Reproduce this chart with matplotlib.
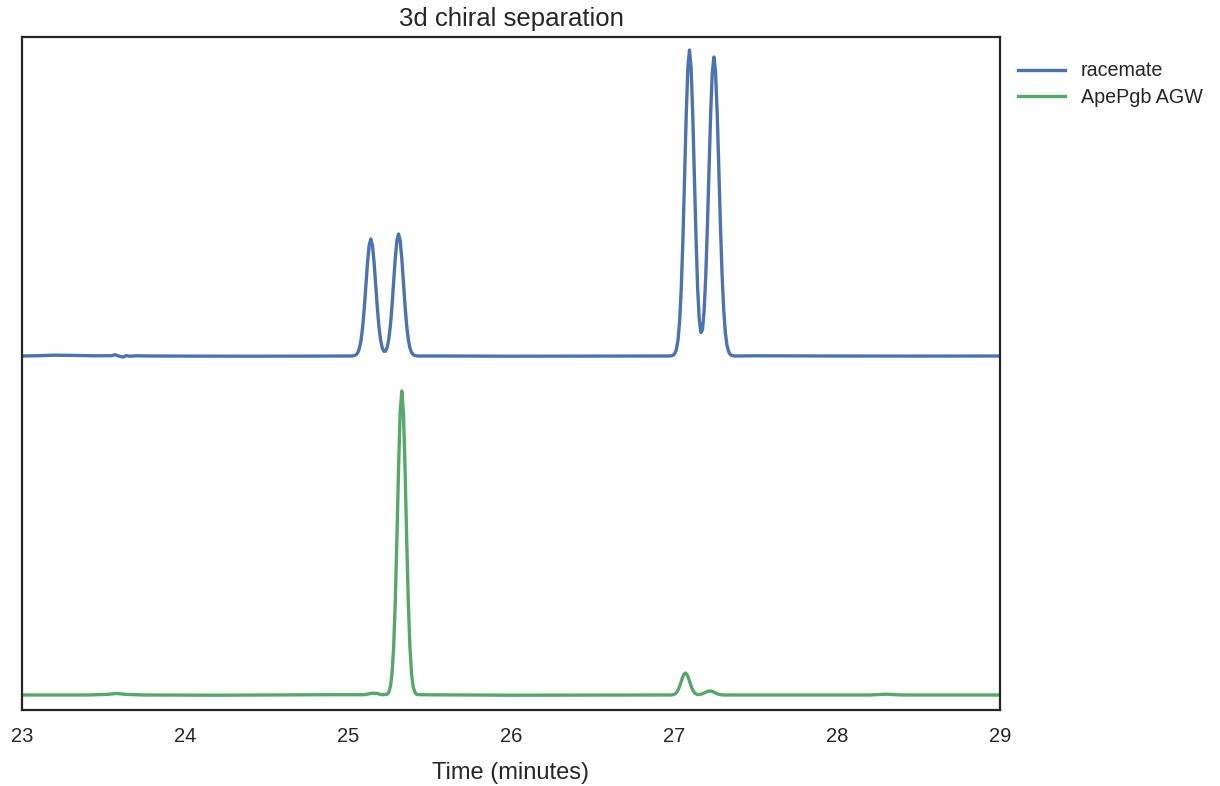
import matplotlib
matplotlib.use("Agg")
import matplotlib.pyplot as plt

# ---------------- data ----------------
title = "3d chiral separation"
xlabel = "Time (minutes)"
labels = ["racemate", "ApePgb AGW"]
xticks = [23, 24, 25, 26, 27, 28, 29]

racemate_t = [
    23.00, 23.10, 23.20, 23.30, 23.45, 23.55, 23.57, 23.60, 23.62, 23.64,
    23.66, 23.70, 23.80, 24.00, 24.40, 24.80, 25.00, 25.02,
    25.03, 25.04, 25.05, 25.06, 25.07, 25.08, 25.09, 25.10, 25.11, 25.12,
    25.13, 25.14, 25.15, 25.16, 25.17, 25.18, 25.19, 25.20, 25.21, 25.22,
    25.23, 25.24, 25.25, 25.26, 25.27, 25.28, 25.29, 25.30, 25.31, 25.32,
    25.33, 25.34, 25.35, 25.36, 25.37, 25.38, 25.39, 25.40, 25.41, 25.42,
    25.43, 25.60, 26.00, 26.50, 26.90, 26.965,
    26.975, 26.985, 26.995, 27.005, 27.015, 27.025, 27.035, 27.045, 27.055,
    27.065, 27.075, 27.085, 27.095, 27.105, 27.115, 27.125, 27.135, 27.145,
    27.155, 27.165, 27.175, 27.185, 27.195, 27.205, 27.215, 27.225, 27.235,
    27.245, 27.255, 27.265, 27.275, 27.285, 27.295, 27.305, 27.315, 27.325,
    27.335, 27.345, 27.355, 27.365, 27.375, 27.50, 28.00, 28.50, 29.00,
]
racemate_y = [
    0.0, 0.3, 0.8, 0.6, 0.2, 0.3, 1.3, -0.4, -1.0, 0.4,
    -0.2, 0.2, 0.0, -0.1, -0.2, -0.1, 0.0, 0.0,
    0.1, 0.5, 1.3, 3.3, 7.7, 15.8, 29.1, 48.1, 71.0, 93.7,
    110.7, 117.0, 110.7, 93.7, 71.0, 48.1, 29.1, 16.0, 8.2, 4.7,
    4.8, 8.5, 16.6, 30.4, 50.1, 74.1, 97.7, 115.4, 122.0, 115.4,
    97.7, 74.1, 50.1, 30.4, 16.5, 8.0, 3.5, 1.35, 0.5, 0.15,
    0.0, 0.0, -0.2, -0.1, 0.0, 0.0,
    0.1, 0.2, 0.8, 2.5, 6.8, 16.6, 36.0, 69.2, 118.1,
    179.3, 241.1, 288.3, 306.0, 288.3, 241.2, 179.5, 118.6, 68.0,
    36.0, 23.5, 26.5, 46.0, 80.5, 130.3, 187.2, 242.8, 283.8,
    299.0, 283.8, 242.8, 187.2, 130.1, 81.3, 46.0, 23.3, 10.7,
    4.4, 1.6, 0.5, 0.2, 0.0, 0.2, 0.0, -0.1, 0.0,
]

apepgb_t = [
    23.00, 23.40, 23.52, 23.58, 23.64, 23.75, 24.20, 24.90, 25.10, 25.15,
    25.18, 25.20, 25.21, 25.22, 25.23, 25.24, 25.25, 25.26, 25.27, 25.28,
    25.29, 25.30, 25.31, 25.32, 25.33, 25.34, 25.35, 25.36, 25.37, 25.38,
    25.39, 25.40, 25.41, 25.42, 25.43, 25.50, 26.00, 26.90, 26.98, 26.99,
    27.00, 27.01, 27.02, 27.03, 27.04, 27.05, 27.06, 27.07, 27.08, 27.09,
    27.10, 27.11, 27.12, 27.13, 27.14, 27.15, 27.16, 27.17, 27.18, 27.19,
    27.20, 27.21, 27.22, 27.23, 27.24, 27.25, 27.26, 27.27, 27.28, 27.29,
    27.30, 27.31, 27.40, 28.20, 28.30, 28.40, 29.00,
]
apepgb_y = [
    0.0, 0.0, 0.6, 1.5, 0.6, 0.0, -0.2, 0.3, 0.3, 1.8,
    1.5, 0.6, 0.3, 0.4, 0.5, 0.8, 2.7, 8.1, 21.2, 47.7,
    93.0, 156.3, 226.2, 282.4, 304.0, 282.4, 226.2, 156.3, 93.0, 47.7,
    21.2, 8.1, 2.7, 0.8, 0.4, 0.2, -0.2, 0.0, 0.0, 0.2,
    0.6, 1.5, 3.5, 6.7, 11.3, 16.4, 20.4, 22.0, 20.4, 16.4,
    11.3, 6.7, 3.5, 1.5, 0.7, 0.5, 0.6, 1.0, 1.6, 2.4,
    3.2, 3.8, 4.0, 3.8, 3.2, 2.4, 1.6, 1.0, 0.5, 0.3,
    0.1, 0.0, 0.0, 0.0, 0.8, 0.0, 0.0,
]

# ---------------- styling / layout ----------------
RACEMATE_OFFSET = 339
colors = ["#4C72B0", "#55A868"]
dark = "#262626"

plt.rcParams["font.family"] = ["Liberation Sans", "DejaVu Sans"]

fig = plt.figure(figsize=(12.2, 7.86), dpi=100)
ax = fig.add_axes([22 / 1220, 76 / 786, 978 / 1220, 673 / 786])

ax.plot(racemate_t, [v + RACEMATE_OFFSET for v in racemate_y],
        color=colors[0], lw=2.4, label=labels[0], solid_joinstyle="round")
ax.plot(apepgb_t, apepgb_y, color=colors[1], lw=2.4, label=labels[1],
        solid_joinstyle="round")

ax.set_xlim(23, 29)
ax.set_ylim(-15, 658)
ax.set_xticks(xticks)
ax.set_xticklabels([str(x) for x in xticks])
ax.set_yticks([])
ax.tick_params(axis="x", length=0, pad=12, labelsize=14.5, colors=dark)
for s in ax.spines.values():
    s.set_color(dark)
    s.set_linewidth(1.6)

ax.set_xlabel(xlabel, fontsize=17, color=dark, labelpad=12)
ax.set_title(title, fontsize=18.5, color=dark, pad=8)

leg = ax.legend(loc="upper left", bbox_to_anchor=(1.0, 0.99), frameon=False,
                fontsize=14.2, handlelength=2.4, labelspacing=0.38)
for t in leg.get_texts():
    t.set_color(dark)

fig.savefig("out.png", dpi=100, facecolor="white")
